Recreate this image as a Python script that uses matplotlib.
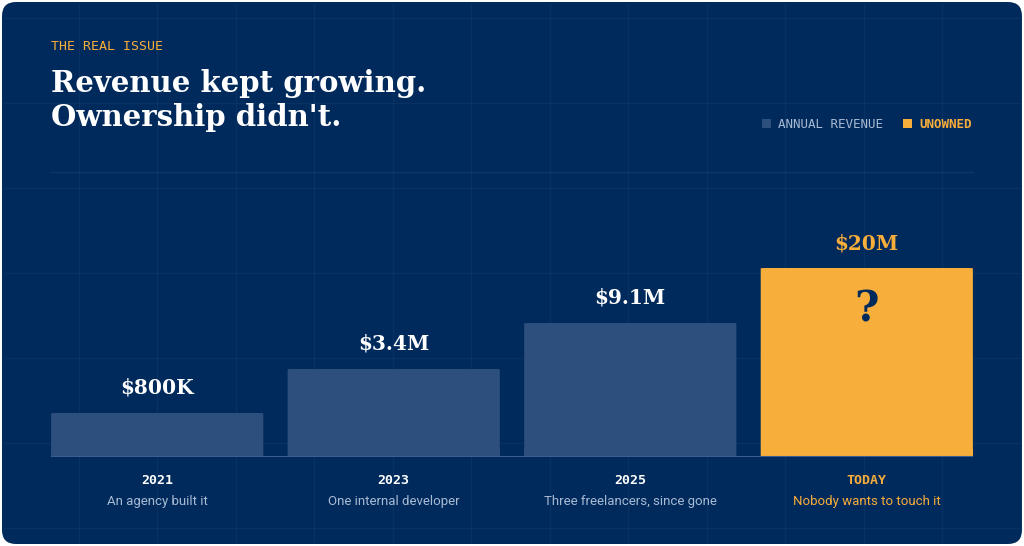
import numpy as np
from matplotlib import pyplot as plt
from matplotlib.patches import FancyBboxPatch, Rectangle

years = ['2021', '2023', '2025', 'TODAY']
notes = ['An agency built it', 'One internal developer',
         'Three freelancers, since gone', 'Nobody wants to touch it']
value_labels = ['$800K', '$3.4M', '$9.1M', '$20M']
bar_heights = [44, 88, 134, 189]  # drawn heights (not to scale with revenue)

BG = '#002a5c'
BAR = '#2d4f7d'
ORANGE = '#f8ae3a'
MUTED = '#a9bad3'
SLAB = 'DejaVu Serif'
MONO = 'DejaVu Sans Mono'

fig = plt.figure(figsize=(10.24, 5.46), dpi=100, facecolor='white')
bg = fig.add_axes([0, 0, 1, 1])
bg.set_xlim(0, 1024)
bg.set_ylim(546, 0)
bg.axis('off')
bg.add_patch(FancyBboxPatch((2, 2), 1020, 542, boxstyle='round,pad=0,rounding_size=14',
                            fc=BG, ec='none'))
for gx in np.arange(0, 1024, 78.5):
    bg.plot([gx, gx], [4, 542], color='#ffffff', alpha=0.04, lw=1)
for gy in np.arange(18, 546, 85):
    bg.plot([4, 1020], [gy, gy], color='#ffffff', alpha=0.04, lw=1)

bg.text(51, 47, 'THE REAL ISSUE', color=ORANGE,
        family=MONO, fontsize=9.5, va='center')
bg.text(51, 83, 'Revenue kept growing.', color='white', family=SLAB,
        fontsize=21, fontweight='bold', va='center')
bg.text(51, 118, "Ownership didn't.", color='white', family=SLAB,
        fontsize=21, fontweight='bold', va='center')

bg.add_patch(Rectangle((762, 119), 9, 9, fc=BAR, ec='none'))
bg.text(778, 124, 'ANNUAL REVENUE', color=MUTED, family=MONO, fontsize=9, va='center')
bg.add_patch(Rectangle((903, 119), 9, 9, fc=ORANGE, ec='none'))
bg.text(919, 124, 'UNOWNED', color=ORANGE, family=MONO, fontsize=9,
        fontweight='bold', va='center')
bg.plot([51, 973], [172, 172], color='#ffffff', alpha=0.06, lw=1)

# chart axes: bottom at y=457 px, 1 data unit = 1 px
ax = fig.add_axes([51 / 1024, (546 - 457) / 546, 922 / 1024, 200 / 546])
ax.set_xlim(-0.449, 3.449)
ax.set_ylim(0, 200)
ax.axis('off')
ax.axhline(0, color='#3d5f8d', lw=1.5)
width = 0.897
for i, h in enumerate(bar_heights):
    color = ORANGE if i == 3 else BAR
    ax.add_patch(FancyBboxPatch((i - width / 2, 0), width, h,
                                boxstyle='round,pad=0,rounding_size=0.02',
                                mutation_aspect=200 / 3.9 * 0.4,
                                fc=color, ec='none'))
    ax.add_patch(Rectangle((i - width / 2, 0), width, 8, fc=color, ec='none'))
    ax.text(i, h + 25, value_labels[i], ha='center', va='center',
            color=ORANGE if i == 3 else 'white', family=SLAB,
            fontsize=14.5, fontweight='bold')
    ax.text(i, -23, years[i], ha='center', va='center',
            color=ORANGE if i == 3 else 'white', family=MONO,
            fontsize=9.5, fontweight='bold')
    ax.text(i, -44, notes[i], ha='center', va='center',
            color=ORANGE if i == 3 else MUTED, family='Roboto', fontsize=9.5)
ax.text(3, bar_heights[3] - 42, '?', ha='center', va='center', color=BG,
        family=SLAB, fontsize=30, fontweight='bold')

fig.savefig('out.png', dpi=100, facecolor='white')
